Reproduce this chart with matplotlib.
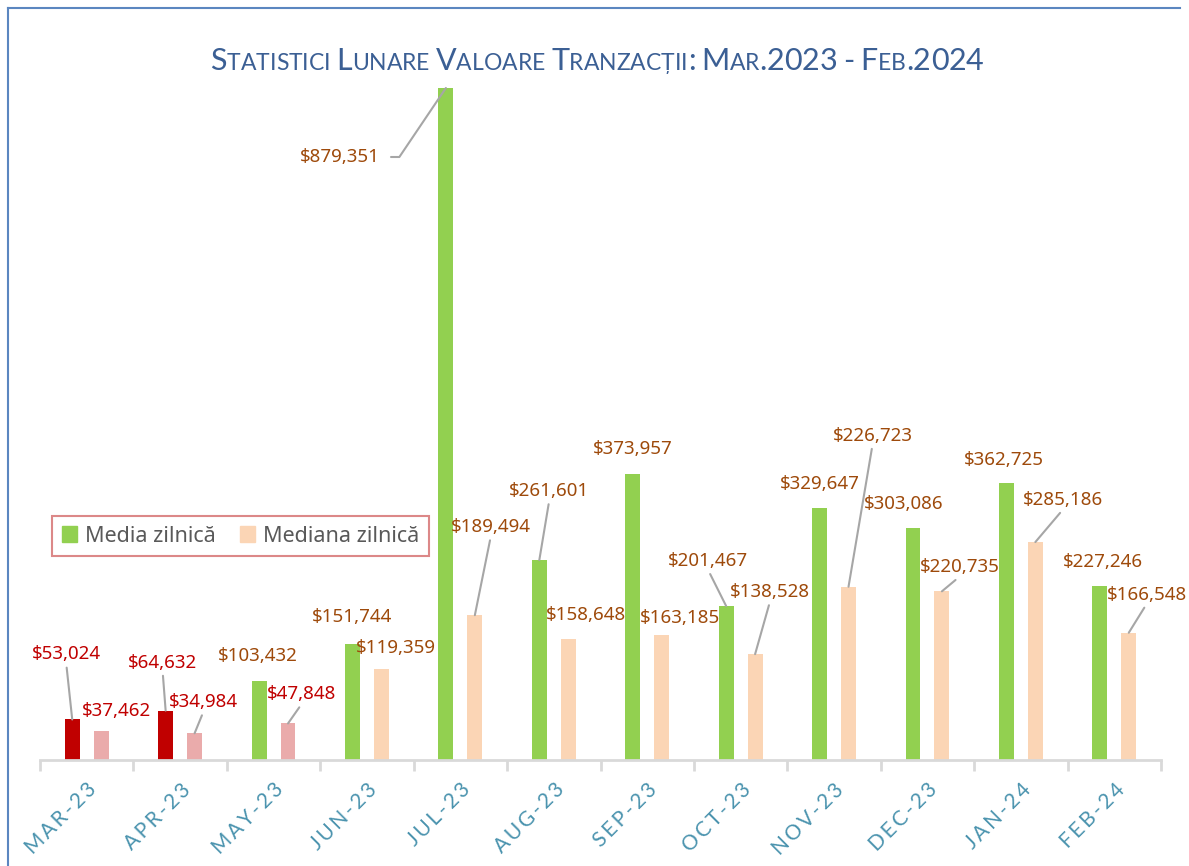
import matplotlib
matplotlib.use("Agg")
import matplotlib.pyplot as plt
import numpy as np
from matplotlib.lines import Line2D
from matplotlib.patches import Patch

plt.rcParams['font.family'] = ['Noto Sans', 'DejaVu Sans']

# date
luni = ["MAR-23", "APR-23", "MAY-23", "JUN-23", "JUL-23", "AUG-23",
        "SEP-23", "OCT-23", "NOV-23", "DEC-23", "JAN-24", "FEB-24"]
media = [53024, 64632, 103432, 151744, 879351, 261601,
         373957, 201467, 329647, 303086, 362725, 227246]
mediana = [37462, 34984, 47848, 119359, 189494, 158648,
           163185, 138528, 226723, 220735, 285186, 166548]
prag = 100000  # sub prag -> rosu

# pozitii etichete (pixeli fata de varful barei) si linii de legatura
off_media = [(-6, 65), (-3, 48), (-1, 25), (0, 27), (-106, -69), (10, 69),
             (0, 25), (-18, 45), (0, 24), (-9, 24), (-3, 23), (3, 24)]
lin_media = [1, 1, 0, 0, 1, 1, 0, 1, 0, 0, 0, 0]
off_mediana = [(15, 20), (9, 31), (14, 29), (14, 21), (16, 88), (18, 24),
               (18, 17), (15, 62), (24, 151), (18, 24), (28, 42), (18, 38)]
lin_mediana = [0, 1, 1, 0, 1, 0, 0, 1, 1, 1, 1, 1]

verde = "#92D050"
piersica = "#FBD5B5"
rosu = "#C00000"
roz = "#EAABAB"
maro = "#9E4A0B"
gri = "#A6A6A6"

W, H = 1189, 866
fig = plt.figure(figsize=(W / 100, H / 100), dpi=100)
ax = fig.add_axes([40 / W, 1 - 760 / H, 1121 / W, 700 / H])

x = np.arange(len(luni))
w = 0.16
d = 0.155
c_media = [rosu if v < prag else verde for v in media]
c_mediana = [roz if v < prag else piersica for v in mediana]
ax.bar(x - d, media, w, color=c_media, zorder=2)
ax.bar(x + d, mediana, w, color=c_mediana, zorder=2)

ax.set_xlim(-0.5, len(luni) - 0.5)
ax.set_ylim(0, 879351 * 700 / 672)

for s in ["top", "left", "right"]:
    ax.spines[s].set_visible(False)
ax.spines["bottom"].set_color("#D9D9D9")
ax.spines["bottom"].set_linewidth(2)
ax.set_yticks([])

ax.set_xticks(x)
ax.set_xticks(np.arange(-0.5, len(luni)), minor=True)
ax.tick_params(axis="x", which="major", length=0, pad=14)
ax.tick_params(axis="x", which="minor", length=8, width=2, color="#D9D9D9")
etich = ["\u2009".join(l) for l in luni]
ax.set_xticklabels(etich, rotation=45, ha="right", va="top",
                   rotation_mode="anchor", fontsize=15, color="#4A93AE",
                   family=["Lato", "DejaVu Sans"])

FS = 13.5


def eticheta(xv, v, off, linie, col):
    props = None
    if linie:
        props = dict(arrowstyle="-", color=gri, lw=1.5, shrinkA=1, shrinkB=0,
                     relpos=(0.5, 0.0))
    ax.annotate("${:,}".format(v), xy=(xv, v), xytext=off,
                textcoords="offset pixels", ha="center", va="center",
                fontsize=FS, color=col, arrowprops=props, zorder=3)


for i in range(len(luni)):
    col = rosu if media[i] < prag else maro
    if i == 4:
        ax.annotate("${:,}".format(media[i]), xy=(x[i] - d, media[i]),
                    xytext=off_media[i], textcoords="offset pixels",
                    ha="center", va="center", fontsize=FS, color=col,
                    arrowprops=dict(arrowstyle="-", color=gri, lw=1.5,
                                    shrinkA=6, shrinkB=0, relpos=(1.0, 0.5),
                                    connectionstyle="angle,angleA=0,angleB=56,rad=0"))
    else:
        eticheta(x[i] - d, media[i], off_media[i], lin_media[i], col)
    col = rosu if mediana[i] < prag else maro
    eticheta(x[i] + d, mediana[i], off_mediana[i], lin_mediana[i], col)

# legenda
h = [Patch(color=verde), Patch(color=piersica)]
leg = ax.legend(h, ["Media zilnică", "Mediana zilnică"], loc="center left",
                bbox_to_anchor=(0.0107, 0.32), ncol=2, fontsize=15.5,
                frameon=True, fancybox=False, handlelength=0.7,
                handleheight=0.7, handletextpad=0.4, columnspacing=1.1,
                borderpad=0.45, borderaxespad=0)
leg.get_frame().set_edgecolor("#D46A6A")
leg.get_frame().set_linewidth(1.5)
for t in leg.get_texts():
    t.set_color("#595959")

# titlu cu majuscule mici
titlu = "Statistici Lunare Valoare Tranzacții: Mar.2023 - Feb.2024"
fig.canvas.draw()
r = fig.canvas.get_renderer()
bucati = []
for ch in titlu:
    mare = not ch.islower()
    t = fig.text(0, 0, ch.upper(), fontsize=22 if mare else 16.5,
                 color="#3B5F94", family=["Lato", "DejaVu Sans"],
                 transform=None, va="baseline")
    bucati.append(t)
lat = [t.get_window_extent(r).width for t in bucati]
for k, t in enumerate(bucati):
    if t.get_text() == " ":
        lat[k] = 6
total = sum(lat)
px = 597 - total / 2
for t, l in zip(bucati, lat):
    t.set_position((px, H - 70))
    px += l

# chenar
fig.add_artist(Line2D([8 / W, 8 / W], [0, 1 - 8 / H], color="#5B86C0", lw=1.5))
fig.add_artist(Line2D([8 / W, 1180 / W], [1 - 8 / H, 1 - 8 / H], color="#5B86C0", lw=1.5))

fig.savefig("out.png", dpi=100)
